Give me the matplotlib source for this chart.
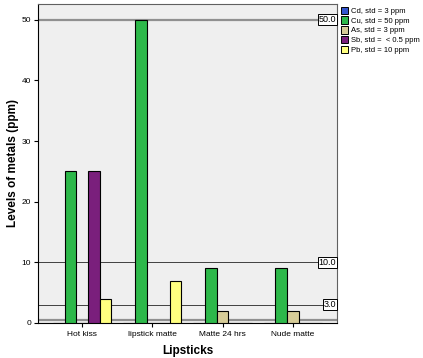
import matplotlib
matplotlib.use("Agg")
import matplotlib.pyplot as plt
import numpy as np
from matplotlib.patches import Patch

plt.rcParams['font.family'] = ['Liberation Sans', 'DejaVu Sans']

categories = ["Hot kiss", "lipstick matte", "Matte 24 hrs", "Nude matte"]
series_names = ["Cd, std = 3 ppm", "Cu, std = 50 ppm", "As, std = 3 ppm",
                "Sb, std =  < 0.5 ppm", "Pb, std = 10 ppm"]
cd = [0, 0, 0, 0]
cu = [25, 50, 9, 9]
as_ = [0, 0, 2, 2]
sb = [25, 0, 0, 0]
pb = [4, 7, 0, 0]
ref_lines = [50.0, 10.0, 3.0, 0.5]
ref_labels = ["50.0", "10.0", "3.0", ""]

colors = ["#3355cc", "#2db84a", "#d6cc98", "#7a1f7c", "#ffff80"]
values = [cd, cu, as_, sb, pb]

fig = plt.figure(figsize=(4.23, 3.58), dpi=100)
ax = fig.add_axes([0.0898, 0.0978, 0.7067, 0.8912])
ax.set_facecolor("#efefef")

x = np.arange(len(categories))
w = 0.166
for i, (vals, c) in enumerate(zip(values, colors)):
    ax.bar(x + (i - 2) * w, vals, width=w, color=c, edgecolor="black", linewidth=0.8, zorder=3)

lw = {50.0: (1.6, "#909090"), 10.0: (0.7, "#404040"), 3.0: (0.7, "#404040"), 0.5: (1.6, "#909090")}
for v, lab in zip(ref_lines, ref_labels):
    l, c = lw[v]
    ax.axhline(v, color=c, linewidth=l, zorder=2)
    if lab:
        ax.text(3.62, v, lab, ha="right", va="center", fontsize=6.5, zorder=5,
                bbox=dict(boxstyle="square,pad=0.1", facecolor="white", edgecolor="black", linewidth=0.7))

ax.set_xlim(-0.63, 3.63)
ax.set_ylim(0, 52.6)
ax.set_xticks(x)
ax.set_xticklabels(categories, fontsize=6)
ax.set_yticks([0, 10, 20, 30, 40, 50])
ax.tick_params(axis="y", labelsize=6, length=3, pad=2)
ax.tick_params(axis="x", length=3, pad=3)
ax.set_ylabel("Levels of metals (ppm)", fontsize=8.5, fontweight="bold", labelpad=2)
ax.set_xlabel("Lipsticks", fontsize=8.5, fontweight="bold", labelpad=5)
for s in ax.spines.values():
    s.set_linewidth(0.8)
    s.set_color("#606060")
ax.spines["left"].set_color("black")
ax.spines["bottom"].set_color("black")

handles = [Patch(facecolor=c, edgecolor="black", linewidth=0.7) for c in colors]
fig.legend(handles, series_names, loc="upper left", bbox_to_anchor=(0.80, 0.99),
           fontsize=5.5, frameon=False, handlelength=0.9, handleheight=1.1,
           handletextpad=0.4, labelspacing=0.2, borderaxespad=0)

fig.savefig("out.png", dpi=100)
